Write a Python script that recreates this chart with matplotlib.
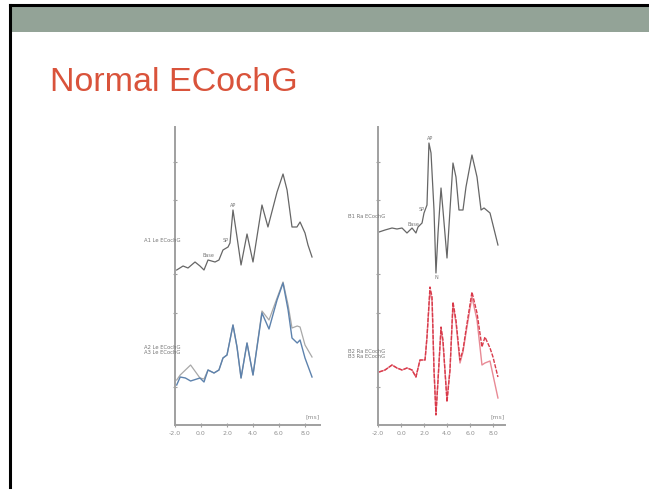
import matplotlib.pyplot as plt
from matplotlib.lines import Line2D
from matplotlib.patches import Rectangle

# tempi in ms, ampiezze in unita' arbitrarie (0 = asse delle ascisse)
t_a1 = [-1.87, -1.38, -1.0, -0.46, -0.08, 0.23, 0.54, 1.08, 1.38, 1.69, 2.08, 2.23, 2.46,
        2.77, 3.08, 3.54, 4.0, 4.69, 5.15, 5.85, 6.31, 6.62, 7.0, 7.38, 7.62, 8.0, 8.23, 8.54]
y_a1 = [155, 159, 157, 163, 159, 155, 165, 163, 165, 175, 178, 182, 215,
        188, 160, 191, 163, 220, 198, 233, 251, 235, 198, 198, 203, 192, 180, 168]

t_a2 = [-1.87, -1.6, -1.2, -0.8, -0.08, 0.23, 0.54, 1.0, 1.38, 1.69, 2.0, 2.46,
        2.77, 3.08, 3.54, 4.0, 4.69, 5.23, 5.85, 6.31, 6.7, 7.0, 7.4, 7.62, 8.0, 8.54]
y_a2 = [40, 48, 47, 44, 47, 43, 55, 52, 55, 67, 70, 100,
        78, 47, 82, 50, 112, 96, 125, 142, 115, 87, 82, 85, 67, 48]
y_a3 = [45, 50, 55, 60, 47, 46, 55, 52, 55, 67, 70, 100,
        78, 47, 82, 50, 114, 105, 127, 143, 120, 97, 99, 98, 80, 68]

t_b1 = [-1.91, -1.39, -0.78, -0.35, 0.09, 0.52, 0.96, 1.30, 1.48, 1.83, 2.0, 2.26, 2.43,
        2.61, 2.87, 3.04, 3.22, 3.48, 3.65, 4.0, 4.26, 4.52, 4.78, 5.04, 5.39, 5.65,
        6.17, 6.61, 6.96, 7.22, 7.74, 8.0, 8.43]
y_b1 = [193, 195, 197, 196, 197, 192, 197, 192, 198, 202, 212, 220, 282,
        272, 215, 152, 192, 237, 215, 167, 215, 262, 248, 215, 215, 238,
        270, 248, 215, 217, 212, 200, 180]

t_b2 = [-1.91, -1.39, -0.78, -0.35, 0.09, 0.52, 0.96, 1.30, 1.65, 2.09, 2.26, 2.52,
        2.70, 2.87, 3.04, 3.22, 3.48, 3.65, 4.0, 4.26, 4.52, 4.78, 5.13, 5.39, 5.65,
        6.17, 6.61, 7.04, 7.30, 7.74, 8.0, 8.43]
y_b2 = [53, 55, 60, 57, 55, 57, 55, 48, 65, 65, 88, 138,
        128, 55, 10, 45, 98, 85, 23, 55, 123, 105, 65, 75, 95,
        133, 112, 78, 88, 77, 68, 48]
y_b3 = [53, 55, 60, 57, 55, 57, 55, 48, 65, 65, 88, 134,
        124, 55, 12, 45, 96, 82, 26, 55, 120, 102, 62, 73, 92,
        128, 105, 60, 62, 64, 50, 27]

xticks = [-2, 0, 2, 4, 6, 8]
xtick_labels = ['-2.0', '0.0', '2.0', '4.0', '6.0', '8.0']
yticks = [263, 225, 151, 112, 38]

W, H = 649, 491
fig = plt.figure(figsize=(W / 100, H / 100), dpi=100)
fig.patch.set_facecolor('white')

# cornice della slide
fig.add_artist(Rectangle((10 / W, 1 - 32 / H), 1, 26 / H, transform=fig.transFigure,
                         facecolor='#93a397', edgecolor='none'))
fig.add_artist(Line2D([9.5 / W, 1], [1 - 4.5 / H, 1 - 4.5 / H], transform=fig.transFigure,
                      color='black', lw=2.2))
fig.add_artist(Line2D([9.5 / W, 9.5 / W], [1 - 4.5 / H, 1 - 487 / H], transform=fig.transFigure,
                      color='black', lw=2.2))
fig.text(50 / W, 1 - 91 / H, 'Normal ECochG', fontsize=24.5, color='#d9533b',
         family='Liberation Sans', ha='left', va='baseline')


def pannello(x0, x1, px_ms):
    ax = fig.add_axes([x0 / W, 1 - 425 / H, (x1 - x0) / W, 298 / H])
    ax.set_xlim(-2, -2 + (x1 - x0) / px_ms)
    ax.set_ylim(0, 298)
    ax.patch.set_alpha(0)
    for s in ['top', 'right']:
        ax.spines[s].set_visible(False)
    for s in ['left', 'bottom']:
        ax.spines[s].set_color('#a0a0a0')
        ax.spines[s].set_linewidth(1.4)
    ax.set_xticks(xticks)
    ax.set_xticklabels(xtick_labels)
    ax.set_yticks(yticks)
    ax.set_yticklabels([])
    ax.tick_params(colors='#a0a0a0', labelcolor='#909090', labelsize=4.5,
                   direction='inout', length=3, width=0.8, pad=3)
    ax.text(1.0, 0.02, '[ms]', transform=ax.transAxes, fontsize=4.5, color='#909090',
            ha='right', va='bottom')
    return ax


ax1 = pannello(175, 320, 13)
ax1.plot(t_a1, y_a1, color='#666666', lw=0.9)
ax1.plot(t_a2, y_a3, color='#a8a8a8', lw=0.9)
ax1.plot(t_a2, y_a2, color='#5d82ad', lw=1.0)
ax1.text(-1.6, 184, 'A1 Le ECochG', fontsize=3.8, color='#777777', ha='right', va='center')
ax1.text(-1.6, 75, 'A2 Le ECochG\nA3 Le ECochG', fontsize=3.8, color='#777777',
         ha='right', va='center', linespacing=0.9)
ax1.text(0.6, 167, 'Base', fontsize=3.5, color='#777777', ha='center', va='bottom')
ax1.text(1.9, 182, 'SP', fontsize=3.5, color='#777777', ha='center', va='bottom')
ax1.text(2.5, 217, 'AP', fontsize=3.5, color='#777777', ha='center', va='bottom')

ax2 = pannello(378, 505, 11.5)
ax2.plot(t_b1, y_b1, color='#666666', lw=0.9)
ax2.plot(t_b2, y_b3, color='#e88a95', lw=1.0)
ax2.plot(t_b2, y_b2, color='#d93a4a', lw=1.0, ls=(0, (3, 1)))
ax2.text(-1.4, 209, 'B1 Ra ECochG', fontsize=3.8, color='#777777', ha='right', va='center')
ax2.text(-1.4, 71, 'B2 Ra ECochG\nB3 Ra ECochG', fontsize=3.8, color='#777777',
         ha='right', va='center', linespacing=0.9)
ax2.text(1.1, 198, 'Base', fontsize=3.5, color='#777777', ha='center', va='bottom')
ax2.text(1.8, 213, 'SP', fontsize=3.5, color='#777777', ha='center', va='bottom')
ax2.text(2.5, 284, 'AP', fontsize=3.5, color='#777777', ha='center', va='bottom')
ax2.text(3.04, 150, 'N', fontsize=3.5, color='#777777', ha='center', va='top')

fig.savefig('out.png', dpi=100)
